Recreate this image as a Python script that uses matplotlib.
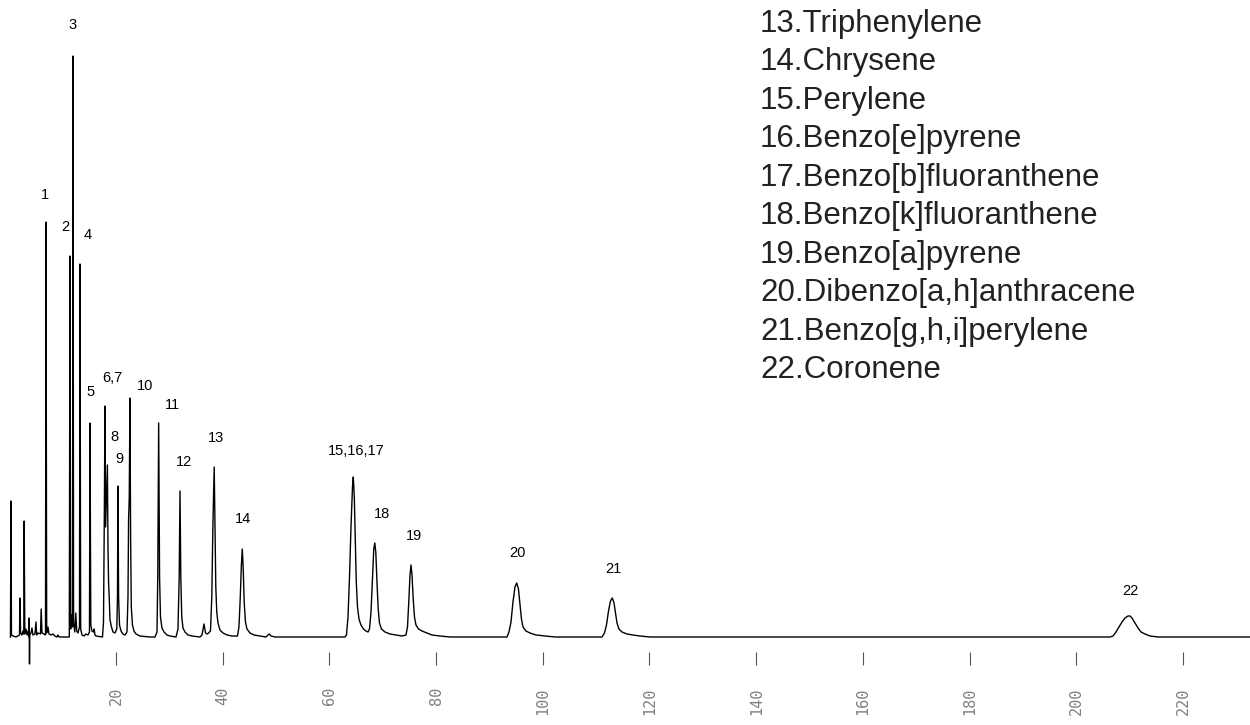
import matplotlib
matplotlib.use("Agg")
import matplotlib.pyplot as plt

# chromatogram trace (time, detector signal)
trace_t = [0.22, 0.32, 0.41, 0.69, 1.26, 1.91, 2.01, 2.12, 2.38, 2.57, 2.72, 2.79, 2.91, 3.13, 3.32,
           3.51, 3.66, 3.73, 3.79, 3.84, 4.07, 4.25, 4.44, 4.82, 5.00, 5.14, 5.38, 5.85, 5.98, 6.13,
           6.50, 6.79, 6.88, 7.01, 7.25, 7.44, 7.82, 8.19, 8.57, 8.94, 9.13, 9.32,
           11.25, 11.38, 11.51, 11.71, 11.86, 11.94, 12.05, 12.28, 12.46, 12.65, 12.88, 13.16, 13.25,
           13.38, 13.63, 14.00, 14.38, 14.75, 15.03, 15.13, 15.28, 15.50, 15.78, 15.91, 16.06, 16.25,
           17.47, 17.66, 17.81, 17.94, 18.05, 18.22, 18.39, 18.50, 18.61, 18.73, 18.88, 19.16, 19.44,
           19.81, 20.15, 20.28, 20.37, 20.49, 20.66, 20.94, 21.31, 21.69, 22.06, 22.25, 22.36, 22.49,
           22.62, 22.74, 22.87, 23.09, 23.37, 23.75, 24.50, 26.37,
           27.31, 27.69, 27.83, 28.00, 28.17, 28.34, 28.62, 29.00, 29.56, 30.12,
           31.25, 31.62, 31.85, 32.00, 32.15, 32.33, 32.56, 32.93, 33.50, 34.25,
           35.75, 36.12, 36.50, 36.78, 37.11, 37.34, 37.71, 37.96, 38.13, 38.24, 38.41, 38.56, 38.71,
           38.89, 39.12, 39.49, 40.06, 40.81, 41.74,
           42.77, 43.05, 43.30, 43.49, 43.67, 43.84, 44.03, 44.27, 44.55, 45.12, 45.87, 47.00,
           48.12, 48.50, 48.77, 49.05, 49.80,
           62.92, 63.20, 63.49, 63.77, 64.05, 64.33, 64.48, 64.67, 64.86, 65.04, 65.27, 65.55, 65.92,
           66.39, 66.86, 67.24, 67.52, 67.80, 68.08, 68.32, 68.51, 68.70, 68.92, 69.15, 69.39, 69.76,
           70.42, 71.36, 72.48, 73.61, 74.36, 74.64, 74.88, 75.11, 75.30, 75.49, 75.71, 75.95, 76.23,
           76.70, 77.36, 78.29, 79.23, 80.73, 82.61,
           93.29, 93.66, 94.04, 94.41, 94.79, 95.11, 95.44, 95.72, 96.00, 96.29, 96.85, 97.60, 98.72,
           100.41, 102.28,
           111.10, 111.56, 111.94, 112.32, 112.69, 113.03, 113.35, 113.63, 113.91, 114.28, 114.84,
           115.78, 116.90, 118.22, 120.09,
           206.32, 206.88, 207.44, 208.00, 208.57, 209.13, 209.69, 210.07, 210.44, 211.01, 211.57,
           212.13, 212.88, 213.82, 215.32, 232.56]
trace_y = [0, 136, 2, 1, 0, 2, 39, 4, 2, 6, 3, 116, 3, 8, 2,
           6, 0, 19, -27, 2, 4, 9, 2, 3, 15, 2, 4, 3, 28, 4,
           3, 2, 415, 4, 10, 3, 2, 3, 1, 0, 2, 0,
           0, 381, 8, 22, 10, 581, 15, 5, 24, 6, 4, 10, 373,
           8, 2, 1, 3, 2, 5, 214, 12, 6, 5, 8, 2, 1,
           0, 15, 120, 231, 110, 140, 172, 90, 55, 40, 17, 10, 5,
           4, 8, 40, 151, 40, 12, 6, 3, 2, 5, 40, 117, 140,
           239, 100, 30, 12, 6, 3, 1, 0,
           0, 5, 60, 214, 60, 20, 9, 5, 2, 1,
           0, 8, 60, 146, 60, 20, 9, 5, 2, 1,
           0, 2, 13, 4, 3, 4, 6, 40, 100, 130, 170, 110, 50,
           25, 14, 7, 4, 2, 1,
           1, 10, 40, 70, 88, 70, 35, 15, 8, 4, 2, 1,
           0, 2, 3, 1, 0,
           0, 2, 20, 60, 110, 150, 160, 140, 95, 55, 30, 18, 12,
           8, 6, 5, 8, 25, 60, 88, 94, 85, 55, 28, 14, 8,
           5, 3, 2, 1, 2, 10, 35, 62, 72, 62, 38, 20, 12,
           8, 6, 4, 2, 1, 0,
           0, 5, 15, 35, 50, 54, 48, 33, 18, 10, 6, 4, 2,
           1, 0,
           0, 4, 12, 26, 36, 39, 34, 24, 14, 8, 5,
           3, 2, 1, 0,
           0, 1, 5, 10, 15, 19, 21, 21, 19, 14, 9,
           5, 3, 1, 0, 0]

# peak numbers and where they are written
peak_labels = ["1", "2", "3", "4", "5", "6,7", "8", "9", "10", "11", "12", "13", "14",
               "15,16,17", "18", "19", "20", "21", "22"]
peak_label_t = [6.69, 10.44, 11.94, 14.75, 15.31, 19.34, 19.62, 20.56, 25.53, 30.59, 32.75,
                38.84, 43.81, 64.99, 69.86, 75.87, 95.17, 113.16, 210.07]
peak_label_y = [442, 410, 612, 402, 245, 259, 200, 178, 251, 232, 175, 199, 118,
                186, 123, 101, 84, 68, 46]

compound_names = ["13.Triphenylene", "14.Chrysene", "15.Perylene", "16.Benzo[e]pyrene",
                  "17.Benzo[b]fluoranthene", "18.Benzo[k]fluoranthene", "19.Benzo[a]pyrene",
                  "20.Dibenzo[a,h]anthracene", "21.Benzo[g,h,i]perylene", "22.Coronene"]

time_ticks = [20, 40, 60, 80, 100, 120, 140, 160, 180, 200, 220]

fig = plt.figure(figsize=(12.5, 7.25), dpi=100)
ax = fig.add_axes([0, 60 / 725, 1, 665 / 725])

ax.plot(trace_t, trace_y, color="black", linewidth=1.0)

for lab, t, y in zip(peak_labels, peak_label_t, peak_label_y):
    ax.text(t, y, lab, ha="center", va="center", fontsize=10.5,
            family="Liberation Sans", color="black")

ax.set_xlim(-1.74, 232.56)
ax.set_ylim(-28, 637)

for s in ax.spines.values():
    s.set_visible(False)
ax.set_yticks([])
ax.set_xticks(time_ticks)
ax.set_xticklabels([str(v) for v in time_ticks], rotation=90, va="top",
                   family="DejaVu Sans Mono", fontsize=11, color="#808080")
ax.tick_params(axis="x", direction="in", length=9.4, width=0.8, color="#555555", pad=16)

# compound list, top right
for i, name in enumerate(compound_names):
    fig.text(760 / 1250, 1 - (31.7 + i * 38.5) / 725, name, ha="left", va="baseline",
             fontsize=22.5, family="Liberation Sans", color="#222222")

fig.savefig("out.png", dpi=100)
